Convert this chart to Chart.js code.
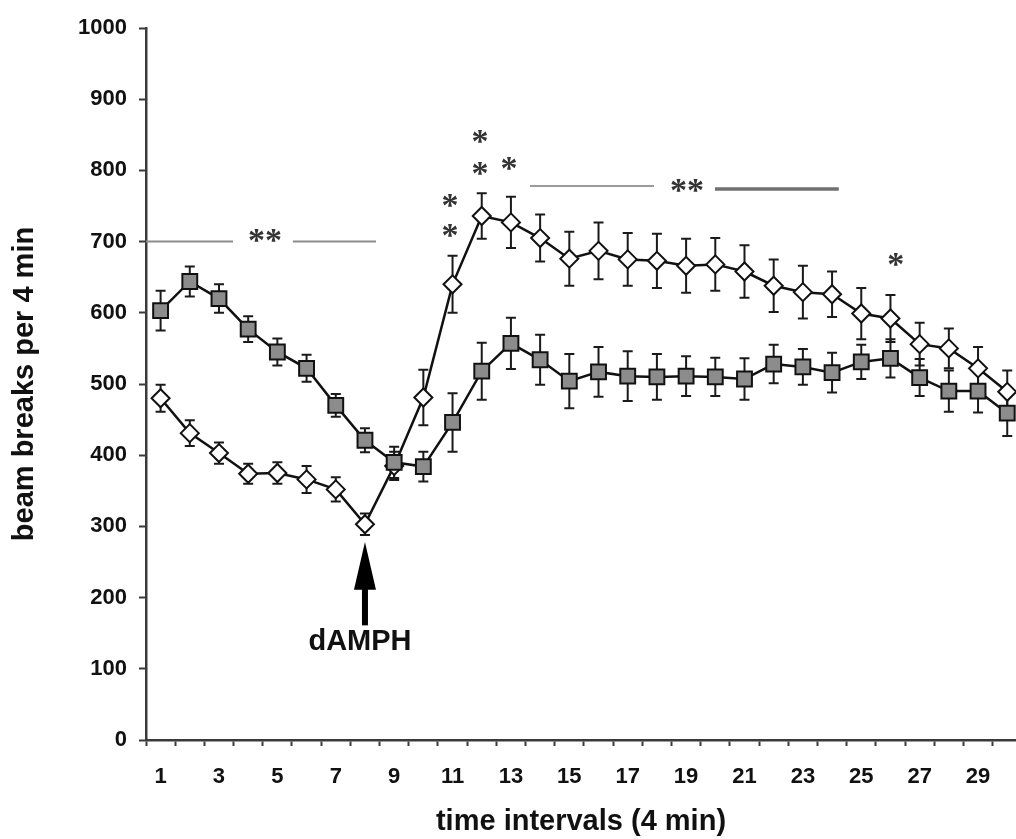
<!DOCTYPE html>
<html>
<head>
<meta charset="utf-8">
<title>beam breaks per 4 min</title>
<script src="https://cdn.jsdelivr.net/npm/chart.js@4.4.1/dist/chart.umd.min.js"></script>
<style>
  html, body { margin: 0; padding: 0; background: #fff; overflow: hidden; }
  canvas { display: block; }
</style>
</head>
<body>
<canvas id="grafico" width="1016" height="839"></canvas>
<script>
// Time intervals (4 min each)
const intervals = [1, 2, 3, 4, 5, 6, 7, 8, 9, 10, 11, 12, 13, 14, 15, 16, 17, 18, 19, 20, 21, 22, 23, 24, 25, 26, 27, 28, 29, 30];

// Open diamonds: mean and SEM
const diamondMean = [480, 431, 403, 374, 375, 366, 352, 303, 385, 481, 640, 736, 727, 705, 676, 687, 675, 673, 666, 668, 658, 638, 629, 626, 599, 592, 556, 550, 522, 489];
const diamondSem = [19, 18, 15, 14, 15, 19, 17, 15, 20, 39, 40, 32, 36, 33, 38, 40, 37, 38, 38, 37, 37, 37, 37, 32, 36, 33, 30, 28, 30, 30];

// Grey squares: mean and SEM
const squareMean = [603, 644, 620, 577, 545, 522, 470, 421, 390, 384, 446, 518, 557, 534, 504, 517, 511, 510, 511, 510, 507, 528, 524, 516, 531, 536, 509, 490, 490, 459];
const squareSem = [28, 21, 20, 18, 19, 19, 16, 17, 22, 21, 41, 40, 36, 35, 38, 35, 35, 32, 28, 27, 29, 27, 25, 28, 24, 27, 26, 29, 30, 32];

// Axis ticks
const xLabelTicks = [1, 3, 5, 7, 9, 11, 13, 15, 17, 19, 21, 23, 25, 27, 29];
const yMin = 0;
const yMax = 1000;
const yStep = 100;

// Significance bars and asterisks (data units)
const sigLines = [
    { from: 0.5, to: 3.48, y: 700, width: 2, color: "#8c8c8c" },
    { from: 5.53, to: 8.38, y: 700, width: 2, color: "#8c8c8c" },
    { from: 13.65, to: 17.9, y: 778, width: 2, color: "#9a9a9a" },
    { from: 19.99, to: 24.23, y: 774, width: 3.5, color: "#707070" }
];
const sigStars = [
    { x: 4.58, y: 708, text: "**" },
    { x: 10.91, y: 758, text: "*" },
    { x: 10.91, y: 715, text: "*" },
    { x: 11.94, y: 847, text: "*" },
    { x: 11.94, y: 803, text: "*" },
    { x: 12.93, y: 809, text: "*" },
    { x: 19.03, y: 779, text: "**" },
    { x: 26.18, y: 675, text: "*" }
];

// dAMPH injection arrow
const injection = { x: 8, tip: 278, headBase: 211, tail: 161, labelX: 7.83, labelY: 138, text: "dAMPH" };

const FONT = "'Liberation Sans', Arial, Helvetica, sans-serif";

function toPoints(values) {
    return intervals.map((t, i) => ({ x: t, y: values[i] }));
}

// Draws the SEM error bars behind the markers
const errorBarsPlugin = {
    id: "errorBars",
    beforeDatasetsDraw(chart) {
        const ctx = chart.ctx;
        const yScale = chart.scales.y;
        chart.data.datasets.forEach((ds, i) => {
            const meta = chart.getDatasetMeta(i);
            ctx.save();
            ctx.strokeStyle = "#1a1a1a";
            ctx.lineWidth = 2;
            meta.data.forEach((pt, j) => {
                const v = ds.data[j].y;
                const e = ds.errors[j];
                const top = yScale.getPixelForValue(v + e);
                const bottom = yScale.getPixelForValue(v - e);
                ctx.beginPath();
                ctx.moveTo(pt.x, top);
                ctx.lineTo(pt.x, bottom);
                ctx.moveTo(pt.x - 5, top);
                ctx.lineTo(pt.x + 5, top);
                ctx.moveTo(pt.x - 5, bottom);
                ctx.lineTo(pt.x + 5, bottom);
                ctx.stroke();
            });
            ctx.restore();
        });
    }
};

// Draws significance lines, asterisks and the dAMPH arrow
const annotationsPlugin = {
    id: "annotations",
    afterDatasetsDraw(chart) {
        const ctx = chart.ctx;
        const xs = chart.scales.x;
        const ys = chart.scales.y;
        ctx.save();

        sigLines.forEach((l) => {
            ctx.strokeStyle = l.color;
            ctx.lineWidth = l.width;
            ctx.beginPath();
            ctx.moveTo(xs.getPixelForValue(l.from), ys.getPixelForValue(l.y));
            ctx.lineTo(xs.getPixelForValue(l.to), ys.getPixelForValue(l.y));
            ctx.stroke();
        });

        ctx.fillStyle = "#333";
        ctx.font = "bold 34px 'Liberation Serif', 'Times New Roman', serif";
        ctx.textAlign = "center";
        ctx.textBaseline = "alphabetic";
        sigStars.forEach((s) => {
            const m = ctx.measureText(s.text);
            const cy = ys.getPixelForValue(s.y);
            const base = cy + (m.actualBoundingBoxAscent - m.actualBoundingBoxDescent) / 2;
            ctx.fillText(s.text, xs.getPixelForValue(s.x), base);
        });

        // arrow
        const ax = xs.getPixelForValue(injection.x);
        const tipY = ys.getPixelForValue(injection.tip);
        const headY = ys.getPixelForValue(injection.headBase);
        const tailY = ys.getPixelForValue(injection.tail);
        ctx.fillStyle = "#000";
        ctx.fillRect(ax - 3, headY - 2, 6, tailY - headY + 2);
        ctx.beginPath();
        ctx.moveTo(ax, tipY);
        ctx.lineTo(ax + 11, headY);
        ctx.lineTo(ax - 11, headY);
        ctx.closePath();
        ctx.fill();

        ctx.font = "bold 29px " + FONT;
        ctx.textBaseline = "middle";
        ctx.fillStyle = "#111";
        ctx.fillText(injection.text, xs.getPixelForValue(injection.labelX), ys.getPixelForValue(injection.labelY));

        ctx.restore();
    }
};

function renderChart() {
    new Chart(document.getElementById("grafico"), {
        type: "line",
        data: {
            datasets: [
                {
                    label: "squares",
                    data: toPoints(squareMean),
                    errors: squareSem,
                    borderColor: "#111",
                    borderWidth: 2.5,
                    pointStyle: "rect",
                    pointRadius: 10.5,
                    pointBackgroundColor: "#8c8c8c",
                    pointBorderColor: "#111",
                    pointBorderWidth: 2,
                    tension: 0,
                    clip: false,
                    order: 0
                },
                {
                    label: "diamonds",
                    data: toPoints(diamondMean),
                    errors: diamondSem,
                    borderColor: "#111",
                    borderWidth: 2.5,
                    pointStyle: "rectRot",
                    pointRadius: 9,
                    pointBackgroundColor: "#fff",
                    pointBorderColor: "#111",
                    pointBorderWidth: 2,
                    tension: 0,
                    clip: false,
                    order: 1
                }
            ]
        },
        options: {
            responsive: false,
            animation: false,
            layout: {
                autoPadding: false,
                padding: { top: 28, right: 0, bottom: 0, left: 0 }
            },
            plugins: {
                legend: { display: false },
                tooltip: { enabled: false }
            },
            scales: {
                x: {
                    type: "linear",
                    min: 0.5,
                    max: 30.3,
                    afterBuildTicks: (scale) => {
                        const ticks = [];
                        for (let b = 0.5; b <= 30; b += 1) ticks.push({ value: b });
                        xLabelTicks.forEach((v) => ticks.push({ value: v }));
                        ticks.sort((a, b) => a.value - b.value);
                        scale.ticks = ticks;
                    },
                    afterFit: (scale) => {
                        scale.height = 99;
                        scale.paddingLeft = 0;
                        scale.paddingRight = 0;
                    },
                    border: { display: true, color: "#3a3a3a", width: 2.5 },
                    grid: {
                        drawOnChartArea: false,
                        drawTicks: true,
                        tickLength: 6,
                        tickWidth: 2,
                        tickColor: (c) => (c.tick && c.tick.value % 1 !== 0 ? "#3a3a3a" : "rgba(0,0,0,0)")
                    },
                    ticks: {
                        autoSkip: false,
                        maxRotation: 0,
                        padding: 18,
                        color: "#111",
                        font: { family: FONT, size: 22, weight: "bold" },
                        callback: (v) => (xLabelTicks.includes(v) ? String(v) : "")
                    },
                    title: {
                        display: true,
                        text: "time intervals (4 min)",
                        color: "#111",
                        font: { family: FONT, size: 29, weight: "bold" },
                        padding: { top: 0, bottom: 0 }
                    }
                },
                y: {
                    min: yMin,
                    max: yMax,
                    afterFit: (scale) => { scale.width = 146; },
                    border: { display: true, color: "#3a3a3a", width: 2.5 },
                    grid: {
                        drawOnChartArea: false,
                        drawTicks: true,
                        tickLength: 7,
                        tickWidth: 2,
                        tickColor: "#3a3a3a"
                    },
                    ticks: {
                        stepSize: yStep,
                        padding: 12,
                        color: "#111",
                        font: { family: FONT, size: 22, weight: "bold" },
                        callback: (v) => String(v)
                    },
                    title: {
                        display: true,
                        text: "beam breaks per 4 min",
                        color: "#111",
                        font: { family: FONT, size: 29, weight: "bold" },
                        padding: { top: 8, bottom: 0 }
                    }
                }
            }
        },
        plugins: [errorBarsPlugin, annotationsPlugin]
    });
}

document.addEventListener("DOMContentLoaded", renderChart);
</script>
</body>
</html>
